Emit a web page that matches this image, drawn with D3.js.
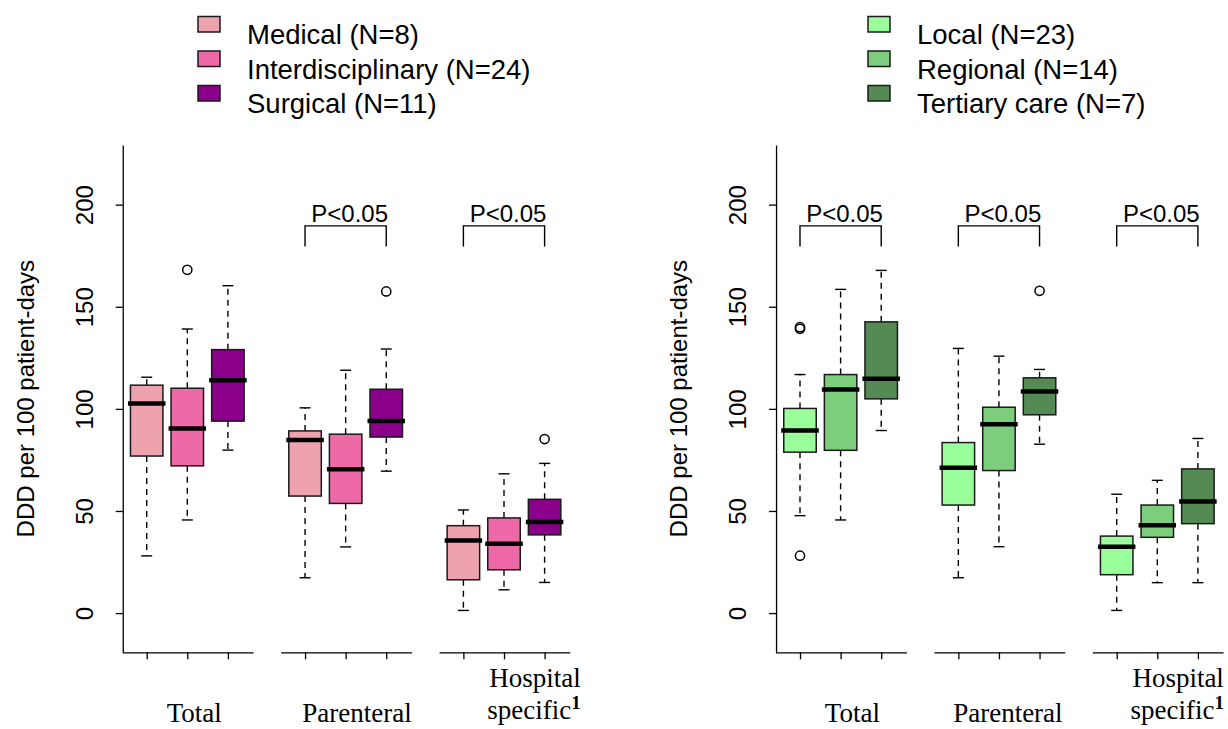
<!DOCTYPE html>
<html>
<head>
<meta charset="utf-8">
<script src="https://cdn.jsdelivr.net/npm/d3@7"></script>
<style>
body { margin: 0; background: #fff; }
</style>
</head>
<body>
<div id="chart"></div>
<script>
// data: [lower whisker, Q1, median, Q3, upper whisker] per group
var groups = ["Total", "Parenteral", "Hospital specific"];
var yTicks = [0, 50, 100, 150, 200];

var leftNames = ["Medical (N=8)", "Interdisciplinary (N=24)", "Surgical (N=11)"];
var medicalStats = [[28.0, 76.9, 102.6, 111.6, 115.5], [17.3, 57.3, 84.7, 89.2, 100.5], [1.3, 16.3, 35.5, 42.8, 50.5]];
var interStats = [[45.6, 72.1, 90.4, 110.1, 139.1], [32.4, 53.7, 70.4, 87.6, 118.9], [11.4, 21.2, 33.9, 46.6, 68.2]];
var surgicalStats = [[79.8, 94.0, 114.0, 129.0, 160.3], [69.5, 86.2, 94.0, 109.6, 129.3], [15.0, 38.3, 44.6, 55.7, 73.3]];
var medicalOut = [[], [], []];
var interOut = [[168.1], [], []];
var surgicalOut = [[], [157.5], [85.2]];
var leftSig = [false, true, true];

var rightNames = ["Local (N=23)", "Regional (N=14)", "Tertiary care (N=7)"];
var localStats = [[47.7, 78.8, 89.4, 100.2, 116.8], [17.3, 52.9, 71.2, 83.5, 129.6], [1.3, 18.8, 32.5, 37.7, 58.2]];
var regionalStats = [[45.6, 79.7, 109.5, 116.8, 158.5], [32.5, 69.8, 92.5, 100.8, 125.8], [14.9, 37.1, 43.0, 52.9, 65.0]];
var tertiaryStats = [[89.4, 104.9, 114.7, 142.6, 167.8], [82.7, 97.1, 108.5, 115.2, 119.3], [14.9, 43.8, 54.6, 70.6, 85.5]];
var localOut = [[139.2, 140.0, 28.1], [], []];
var regionalOut = [[], [], []];
var tertiaryOut = [[], [157.8], []];
var rightSig = [true, true, true];

var width = 1228, height = 729;
var sans = "'Liberation Sans', Arial, Helvetica, sans-serif";
var serif = "'Liberation Serif', 'Times New Roman', serif";

// box positions in R units inside each panel
var groupPos = [[1, 2, 3], [4.9, 5.9, 6.9], [8.8, 9.8, 10.8]];

var svg = d3.select("#chart").append("svg")
    .attr("width", width)
    .attr("height", height);
svg.append("rect").attr("width", width).attr("height", height).attr("fill", "#fff");

var yScale = d3.scaleLinear().domain([-19.2, 229.2]).range([652.3, 145]);

var panels = [
    {dx: 0, names: leftNames, colors: ["#EEA2AD", "#EE6AA7", "#8B008B"],
     stats: [medicalStats, interStats, surgicalStats], outs: [medicalOut, interOut, surgicalOut],
     sig: leftSig, legendX: 198, labelX: [2.17, 6.18, 11.69]},
    {dx: 653.3, names: rightNames, colors: ["#9AFF9A", "#7CCD7C", "#548B54"],
     stats: [localStats, regionalStats, tertiaryStats], outs: [localOut, regionalOut, tertiaryOut],
     sig: rightSig, legendX: 868, labelX: [2.29, 6.12, 11.44]}
];

panels.forEach(function(p) {
    var g = svg.append("g").attr("transform", "translate(" + p.dx + ",0)");
    var x = d3.scaleLinear().domain([1, 10.8]).range([146.7, 544.6]);
    var hw = (x(1.4) - x(1));

    /* y axis */
    var yAxis = g.append("g")
        .attr("transform", "translate(" + x(0.41) + ",0)")
        .call(d3.axisLeft(yScale).tickValues(yTicks).tickSize(7).tickSizeOuter(0));
    yAxis.select(".domain").attr("stroke", "#000").attr("stroke-width", 1.3);
    yAxis.selectAll(".tick line").attr("stroke", "#000").attr("stroke-width", 1.3);
    yAxis.selectAll(".tick text")
        .attr("x", 0).attr("y", -30).attr("dy", null)
        .attr("transform", "rotate(-90)")
        .attr("text-anchor", "middle")
        .style("font-family", sans).style("font-size", "24px").attr("fill", "#000");

    g.append("text")
        .attr("transform", "translate(" + (x(0.41) - 89) + "," + yScale(105) + ") rotate(-90)")
        .attr("text-anchor", "middle")
        .style("font-family", sans).style("font-size", "24px")
        .text("DDD per 100 patient-days");

    /* x axis, one piece per group */
    groupPos.forEach(function(pos, j) {
        var sub = d3.scaleLinear()
            .domain([pos[0] - 0.6, pos[2] + 0.62])
            .range([x(pos[0] - 0.6), x(pos[2] + 0.62)]);
        var ax = g.append("g")
            .attr("transform", "translate(0," + yScale.range()[0] + ")")
            .call(d3.axisBottom(sub).tickValues(pos).tickFormat("").tickSize(7).tickSizeOuter(0));
        ax.select(".domain").attr("stroke", "#000").attr("stroke-width", 1.3);
        ax.selectAll(".tick line").attr("stroke", "#000").attr("stroke-width", 1.3);
    });

    /* group labels */
    var lab = g.append("g").style("font-family", serif).style("font-size", "27px").attr("fill", "#000");
    lab.append("text").attr("x", x(p.labelX[0])).attr("y", 722).attr("text-anchor", "middle").text(groups[0]);
    lab.append("text").attr("x", x(p.labelX[1])).attr("y", 722).attr("text-anchor", "middle").text(groups[1]);
    var words = groups[2].split(" ");
    lab.append("text").attr("x", x(p.labelX[2])).attr("y", 687).attr("text-anchor", "end").text(words[0]);
    var t2 = lab.append("text").attr("x", x(p.labelX[2])).attr("y", 719).attr("text-anchor", "end");
    t2.append("tspan").text(words[1]);
    t2.append("tspan").attr("dy", -10).style("font-size", "19px").style("font-weight", "bold").text("1");

    /* boxes */
    p.stats.forEach(function(series, i) {
        series.forEach(function(s, j) {
            var cx = x(groupPos[j][i]);
            var bg = g.append("g");
            bg.selectAll(".whisker")
                .data([[s[3], s[4]], [s[1], s[0]]])
                .enter().append("line")
                .attr("x1", cx).attr("x2", cx)
                .attr("y1", d => yScale(d[0])).attr("y2", d => yScale(d[1]))
                .attr("stroke", "#000").attr("stroke-width", 1.4)
                .attr("stroke-dasharray", "6,5");
            bg.selectAll(".staple")
                .data([s[0], s[4]])
                .enter().append("line")
                .attr("x1", cx - 5.5).attr("x2", cx + 5.5)
                .attr("y1", d => yScale(d)).attr("y2", d => yScale(d))
                .attr("stroke", "#000").attr("stroke-width", 1.4);
            bg.append("rect")
                .attr("x", cx - hw).attr("width", 2 * hw)
                .attr("y", yScale(s[3])).attr("height", yScale(s[1]) - yScale(s[3]))
                .attr("fill", p.colors[i])
                .attr("stroke", "#1a1a1a").attr("stroke-width", 1.5);
            bg.append("line")
                .attr("x1", cx - hw - 2.5).attr("x2", cx + hw + 2.5)
                .attr("y1", yScale(s[2])).attr("y2", yScale(s[2]))
                .attr("stroke", "#000").attr("stroke-width", 4.5);
            bg.selectAll("circle")
                .data(p.outs[i][j])
                .enter().append("circle")
                .attr("cx", cx).attr("cy", d => yScale(d))
                .attr("r", 4.6)
                .attr("fill", "none").attr("stroke", "#000").attr("stroke-width", 1.5);
        });
    });

    /* significance brackets */
    p.sig.forEach(function(on, j) {
        if (!on) return;
        var x1 = x(groupPos[j][0]), x2 = x(groupPos[j][2]);
        g.append("path")
            .attr("d", "M" + x1 + "," + yScale(179.5) + "V" + yScale(189.6) + "H" + x2 + "V" + yScale(179.5))
            .attr("fill", "none").attr("stroke", "#000").attr("stroke-width", 1.4);
        g.append("text")
            .attr("x", x(groupPos[j][1]) + 4).attr("y", yScale(191.6))
            .attr("text-anchor", "middle")
            .style("font-family", sans).style("font-size", "24px")
            .text("P<0.05");
    });

    /* legend */
    var leg = svg.append("g").attr("transform", "translate(" + p.legendX + ",0)");
    p.names.forEach(function(name, i) {
        leg.append("rect")
            .attr("x", 0).attr("y", 16.5 + i * 34.5)
            .attr("width", 22).attr("height", 15.5)
            .attr("fill", p.colors[i]).attr("stroke", "#1a1a1a").attr("stroke-width", 1.5);
        leg.append("text")
            .attr("x", 49).attr("y", 44 + i * 34.5)
            .style("font-family", sans).style("font-size", "27.5px")
            .text(name);
    });
});
</script>
</body>
</html>
